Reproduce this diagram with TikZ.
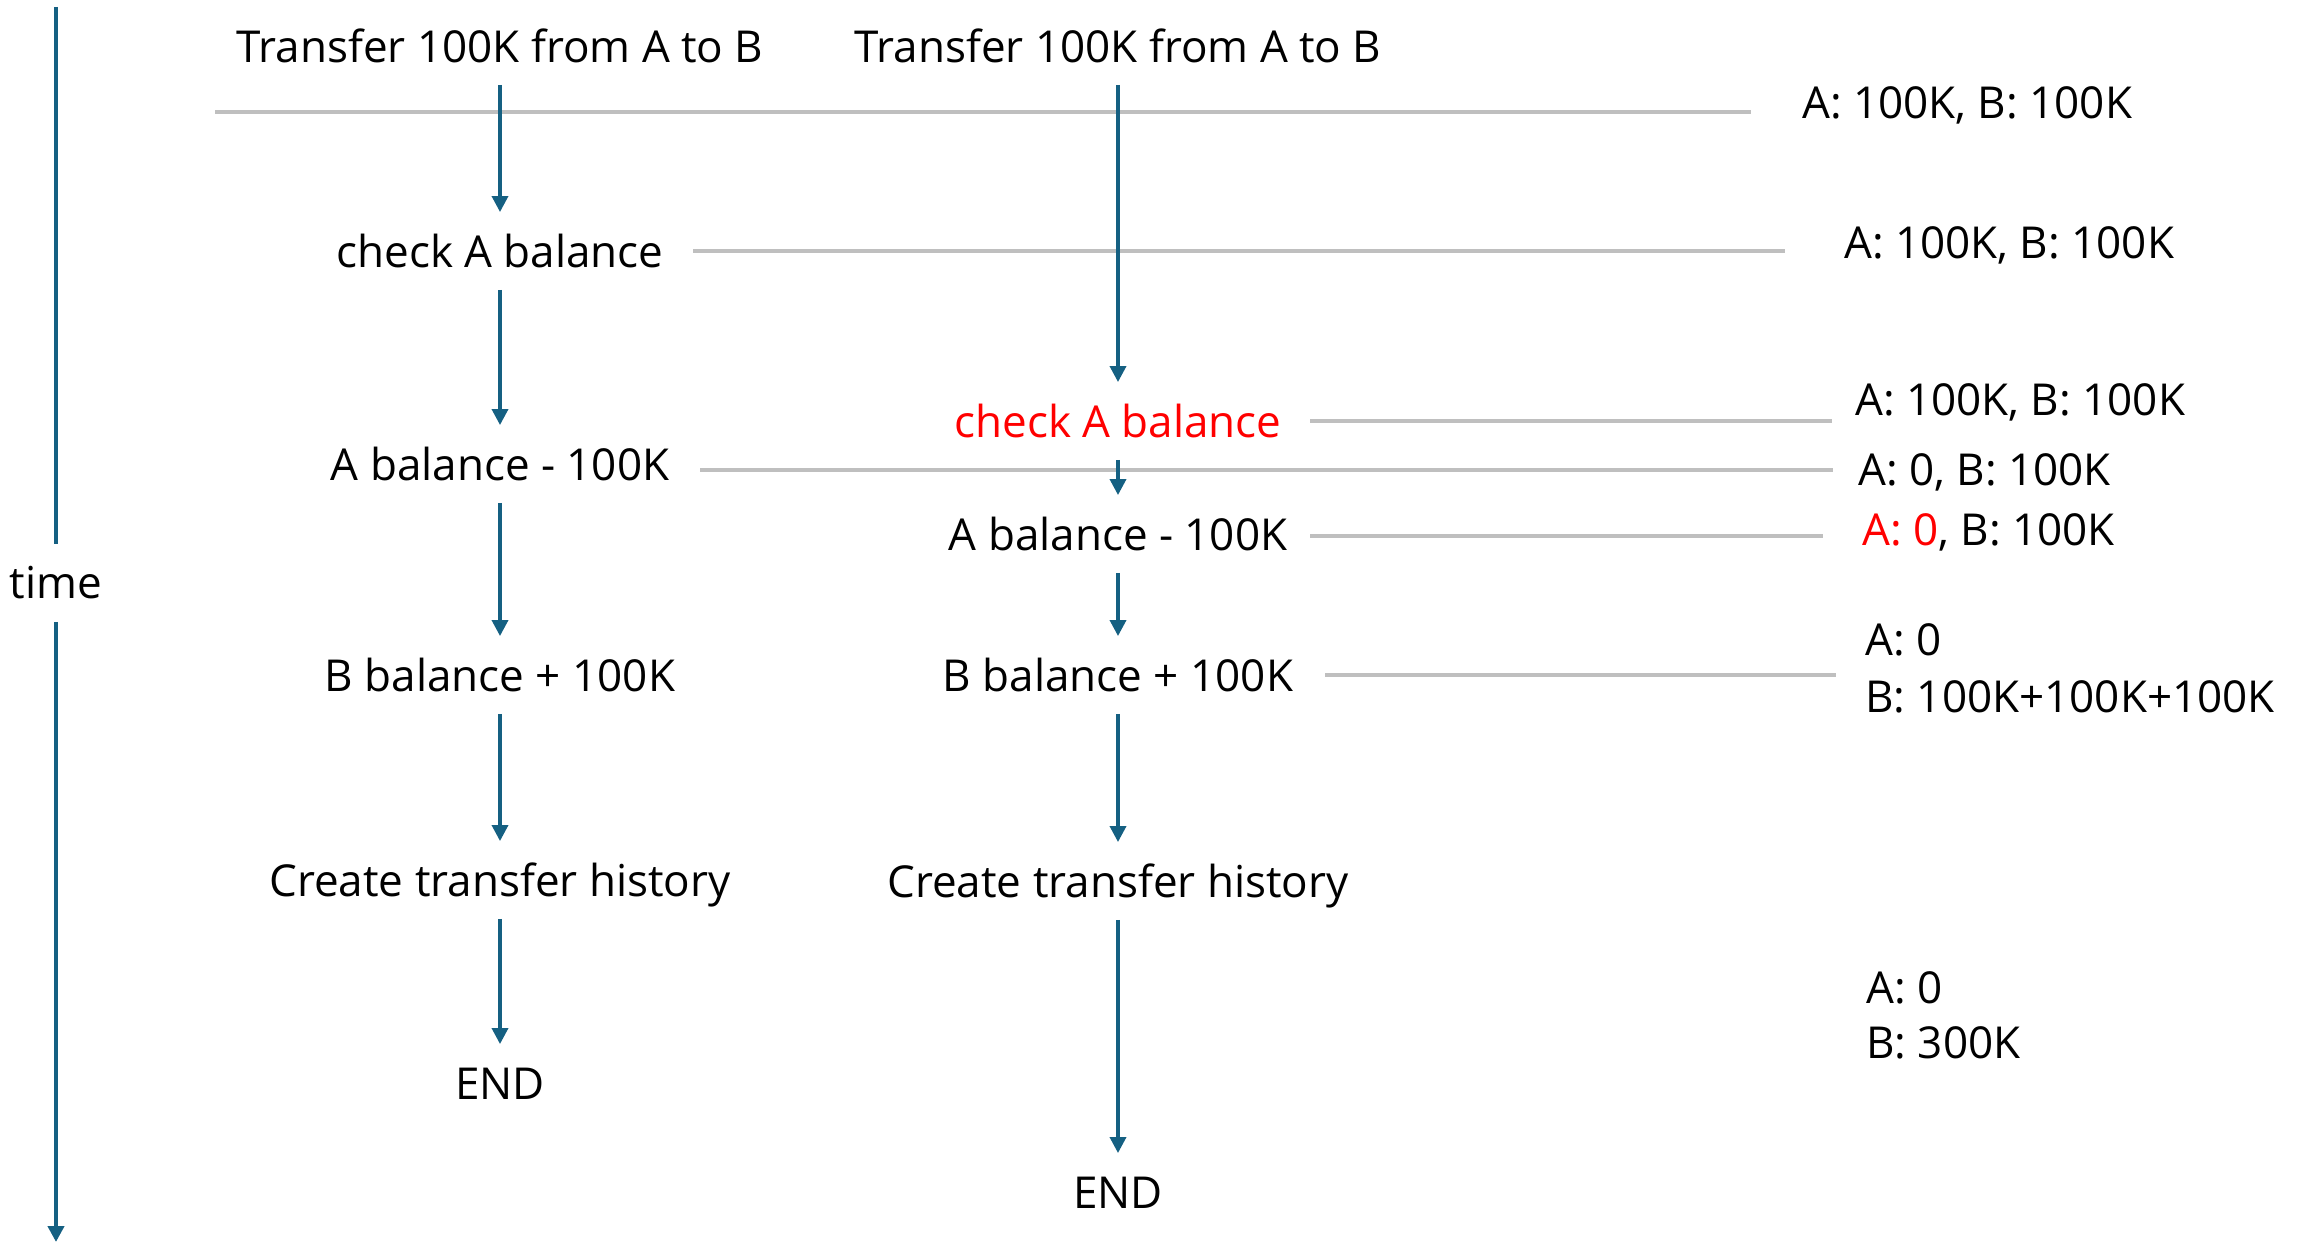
\documentclass[tikz,border=0pt]{standalone}
\usepackage{fontspec}
\setmainfont{Open Sans}
\usetikzlibrary{arrows.meta}
\definecolor{flow}{HTML}{156082}
\definecolor{sepgray}{HTML}{BFBFBF}
\definecolor{hot}{HTML}{FF0000}
\tikzset{
  lbl/.style={inner sep=0pt, text height=31.5pt, text depth=0pt, font=\fontsize{44}{52}\selectfont},
  state/.style={lbl, anchor=west},
  tip/.style={-{Triangle[width=16pt,length=16pt]}},
  flowarrow/.style={draw=flow, line width=3.5pt, tip, shorten <=22pt, shorten >=24pt},
  sepline/.style={draw=sepgray, line width=3.5pt},
  axisline/.style={draw=flow, line width=4pt},
}
\begin{document}
\begin{tikzpicture}[x=1pt,y=-1pt]
\useasboundingbox (0,0) rectangle (2313,1244);
% time axis
\coordinate (axtop) at (56,7);
\coordinate (axbot) at (56,1242);
\node[lbl] (time) at (56,583) {time};
\draw[axisline, shorten >=23pt] (axtop) -- (time);
\draw[axisline, shorten <=23pt, tip] (time) -- (axbot);
% column 1
\node[lbl] (t1) at (500,47) {Transfer 100K from A to B};
\node[lbl] (c1) at (500,252) {check A balance};
\node[lbl] (b1) at (500,465) {A balance - 100K};
\node[lbl] (d1) at (500,676) {B balance + 100K};
\node[lbl] (h1) at (500,881) {Create transfer history};
\node[lbl] (e1) at (500,1084) {END};
% column 2
\node[lbl] (t2) at (1118,47) {Transfer 100K from A to B};
\node[lbl, text=hot] (c2) at (1118,422) {check A balance};
\node[lbl] (b2) at (1118,535) {A balance - 100K};
\node[lbl] (d2) at (1118,676) {B balance + 100K};
\node[lbl] (h2) at (1118,882) {Create transfer history};
\node[lbl] (e2) at (1118,1193) {END};
% states
\node[state] (s1) at (1802,103) {A: 100K, B: 100K};
\node[state] (s2) at (1844,243) {A: 100K, B: 100K};
\node[state] (s3) at (1855,400) {A: 100K, B: 100K};
\node[state] (s4) at (1858,470) {A: 0, B: 100K};
\node[state] (s5) at (1862,530) {\textcolor{hot}{A: 0}, B: 100K};
\node[state] (s6a) at (1865,640) {A: 0};
\node[state] (s6b) at (1865,697) {B: 100K+100K+100K};
\node[state] (s7a) at (1866,988) {A: 0};
\node[state] (s7b) at (1866,1043) {B: 300K};
% separator lines
\coordinate (g1a) at (215,112);  \coordinate (g1b) at (1751,112);
\coordinate (g2a) at (693,251);  \coordinate (g2b) at (1785,251);
\coordinate (g3a) at (700,470);  \coordinate (g3b) at (1833,470);
\coordinate (g4a) at (1310,421); \coordinate (g4b) at (1832,421);
\coordinate (g5a) at (1310,536); \coordinate (g5b) at (1823,536);
\coordinate (g6a) at (1325,675); \coordinate (g6b) at (1836,675);
\draw[sepline] (g1a) -- (g1b);
\draw[sepline] (g2a) -- (g2b);
\draw[sepline] (g3a) -- (g3b);
\draw[sepline] (g4a) -- (g4b);
\draw[sepline] (g5a) -- (g5b);
\draw[sepline] (g6a) -- (g6b);
% flow arrows
\draw[flowarrow] (t1) -- (c1);
\draw[flowarrow] (c1) -- (b1);
\draw[flowarrow] (b1) -- (d1);
\draw[flowarrow] (d1) -- (h1);
\draw[flowarrow] (h1) -- (e1);
\draw[flowarrow] (t2) -- (c2);
\draw[flowarrow] (c2) -- (b2);
\draw[flowarrow] (b2) -- (d2);
\draw[flowarrow] (d2) -- (h2);
\draw[flowarrow] (h2) -- (e2);
\end{tikzpicture}
\end{document}
